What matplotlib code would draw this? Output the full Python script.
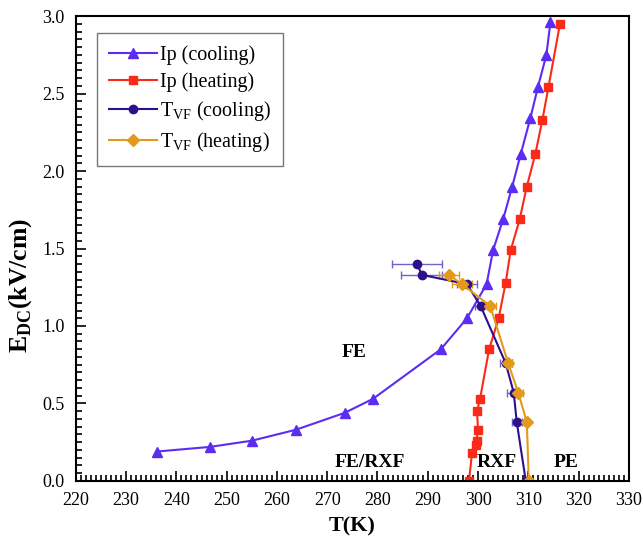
import matplotlib.pyplot as plt
from matplotlib.ticker import MultipleLocator

plt.rcParams['font.family'] = ['Liberation Serif', 'DejaVu Serif']
plt.rcParams['mathtext.fontset'] = 'custom'
plt.rcParams['mathtext.rm'] = 'Liberation Serif'
plt.rcParams['mathtext.bf'] = 'Liberation Serif:bold'

# Ip (cooling)
ip_cool_T = [236.1, 246.7, 255.0, 263.7, 273.5, 279.1, 292.6, 297.8, 301.7, 303.0,
             305.0, 306.8, 308.5, 310.4, 311.9, 313.6, 314.4]
ip_cool_E = [0.19, 0.22, 0.26, 0.33, 0.44, 0.53, 0.85, 1.05, 1.27, 1.49,
             1.69, 1.90, 2.11, 2.34, 2.54, 2.75, 2.96]

# Ip (heating)
ip_heat_T = [298.2, 298.8, 299.5, 299.7, 300.0, 299.8, 300.4, 302.2, 304.1, 305.5,
             306.5, 308.3, 309.7, 311.4, 312.8, 314.0, 316.3]
ip_heat_E = [0.0, 0.18, 0.23, 0.26, 0.33, 0.45, 0.53, 0.85, 1.05, 1.28,
             1.49, 1.69, 1.90, 2.11, 2.33, 2.54, 2.95]

# T_VF (cooling)
tvf_cool_T = [287.9, 288.8, 297.8, 300.5, 305.5, 307.1, 307.7, 309.5]
tvf_cool_E = [1.40, 1.33, 1.27, 1.13, 0.76, 0.57, 0.38, 0.0]
tvf_cool_err = [5.0, 4.1, 2.0, 1.2, 1.2, 1.3, 1.0, 0.0]

# T_VF (heating)
tvf_heat_T = [294.2, 296.8, 302.4, 306.0, 308.0, 309.7, 310.1]
tvf_heat_E = [1.33, 1.27, 1.13, 0.76, 0.57, 0.38, 0.0]
tvf_heat_err = [2.0, 2.0, 1.2, 0.8, 1.0, 0.5, 0.0]

c_blue = '#5b2cf2'
c_red = '#fb2a18'
c_navy = '#2e0f8e'
c_orange = '#e39a1c'

fig = plt.figure(figsize=(6.43, 5.43), dpi=100)
ax = fig.add_axes([0.118, 0.1142, 0.86, 0.8563])

# error bars first, without legend entries
ax.errorbar(tvf_cool_T, tvf_cool_E, xerr=tvf_cool_err, fmt='none',
            ecolor='#6f63c8', elinewidth=1, capsize=3)
ax.errorbar(tvf_heat_T, tvf_heat_E, xerr=tvf_heat_err, fmt='none',
            ecolor=c_orange, elinewidth=1, capsize=3)

ax.plot(ip_cool_T, ip_cool_E, color=c_blue, marker='^', ms=7, lw=1.5, label='Ip (cooling)')
ax.plot(ip_heat_T, ip_heat_E, color=c_red, marker='s', ms=6, lw=1.5, label='Ip (heating)')
ax.plot(tvf_cool_T, tvf_cool_E, color=c_navy, marker='o', ms=6, lw=1.5,
        label=r'T$_{\rm VF}$ (cooling)')
ax.plot(tvf_heat_T, tvf_heat_E, color=c_orange, marker='D', ms=6, lw=1.5,
        label=r'T$_{\rm VF}$ (heating)')

ax.set_xlim(220, 330)
ax.set_ylim(0, 3.0)
ax.xaxis.set_major_locator(MultipleLocator(10))
ax.xaxis.set_minor_locator(MultipleLocator(1))
ax.yaxis.set_major_locator(MultipleLocator(0.5))
ax.yaxis.set_minor_locator(MultipleLocator(0.05))
ax.yaxis.set_major_formatter(plt.FormatStrFormatter('%.1f'))
ax.tick_params(which='both', direction='in', top=False, right=False, labelsize=13, width=1.2)
ax.tick_params(which='major', length=7, pad=8)
ax.tick_params(which='minor', length=4)
for s in ax.spines.values():
    s.set_linewidth(1.5)

ax.set_xlabel('T(K)', fontsize=16, fontweight='bold', labelpad=5)
ax.set_ylabel(r'E$_{\mathbf{DC}}$(kV/cm)', fontsize=18.5, fontweight='bold')
ax.yaxis.set_label_coords(-0.076, 0.42)

ax.text(275.3, 0.83, 'FE', fontsize=14, fontweight='bold', ha='center', va='center')
ax.text(278.5, 0.12, 'FE/RXF', fontsize=14, fontweight='bold', ha='center', va='center')
ax.text(303.7, 0.12, 'RXF', fontsize=14, fontweight='bold', ha='center', va='center')
ax.text(317.6, 0.12, 'PE', fontsize=14, fontweight='bold', ha='center', va='center')

leg = ax.legend(loc='upper left', bbox_to_anchor=(0.038, 0.963), borderaxespad=0,
                fontsize=14.5, handlelength=2.4, handletextpad=0.15, fancybox=False,
                framealpha=1, edgecolor='#777777', labelspacing=0.35, borderpad=0.6)

fig.savefig('out.png', dpi=100)
